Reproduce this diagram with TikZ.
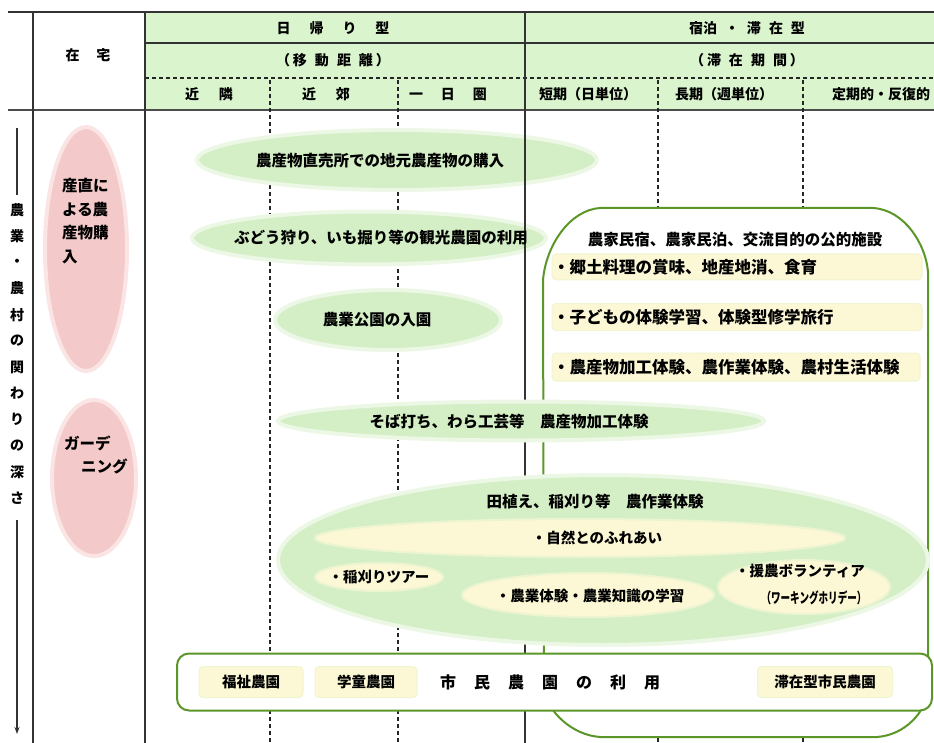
\documentclass[tikz,border=0pt]{standalone}
\usepackage{fontspec}
\usepackage{graphicx}
\setmainfont{Noto Sans CJK JP}
\usetikzlibrary{shapes.geometric,arrows.meta}
\definecolor{hdr}{RGB}{218,245,206}
\definecolor{lgreen}{RGB}{212,239,198}
\definecolor{pinkf}{RGB}{244,201,201}
\definecolor{yel}{RGB}{252,248,214}
\definecolor{boxg}{RGB}{90,150,40}
\begin{document}
\begin{tikzpicture}[x=1pt,y=-1pt,
  txt/.style={inner sep=0pt, font=\bfseries\fontsize{15.5}{18}\selectfont},
  stxt/.style={inner sep=0pt, font=\bfseries\fontsize{14.5}{17}\selectfont},
  hd/.style={inner sep=0pt, font=\bfseries\fontsize{14}{16}\selectfont},
  gell/.style={ellipse, fill=lgreen, draw=lgreen!45, line width=4pt, inner sep=0pt},
  yell/.style={ellipse, fill=yel, draw=yel!60!lgreen, line width=2pt, inner sep=0pt},
  pell/.style={ellipse, fill=pinkf, draw=pinkf!50, line width=4pt, inner sep=0pt},
  ybox/.style={rectangle, rounded corners=4pt, fill=yel, draw=yel!70!lgreen, line width=1pt, inner sep=0pt},
  dline/.style={line width=1.1pt, dash pattern=on 4pt off 3pt, black!85},
  sline/.style={line width=1.2pt, black!80},
]
\useasboundingbox (0,0) rectangle (934,743);
% header
\fill[hdr] (145,12) rectangle (934,110);
\draw[sline] (8,12) -- (934,12);
\draw[sline] (145,43) -- (934,43);
\draw[dline] (145,78) -- (934,78);
\draw[line width=1.8pt, black!70] (8,110) -- (934,110);
\draw[sline] (33,12) -- (33,743);
\draw[sline] (145,12) -- (145,743);
\draw[sline] (525,12) -- (525,110);
% dashed verticals
\foreach \xx in {270,398,658,803} \draw[dline] (\xx,80) -- (\xx,743);
% header texts
\node[hd] (zaitaku) at (88,55) {在\hspace{17pt}宅};
\node[hd] (higaeri) at (333,28) {日\hspace{19pt}帰\hspace{19pt}り\hspace{19pt}型};
\node[hd] (idou) at (333,60) {（\hspace{3pt}移\hspace{8pt}動\hspace{8pt}距\hspace{8pt}離\hspace{3pt}）};
\node[hd] (kinrin) at (209,94) {近\hspace{20pt}隣};
\node[hd] (kinkou) at (326,94) {近\hspace{20pt}郊};
\node[hd] (ichinichi) at (448,94) {一\hspace{18pt}日\hspace{18pt}圏};
\node[hd] (shukuhaku) at (747,28) {宿泊\hspace{8pt}・\hspace{8pt}滞\hspace{8pt}在\hspace{8pt}型};
\node[hd] (taizai) at (747,60) {（\hspace{3pt}滞\hspace{8pt}在\hspace{8pt}期\hspace{8pt}間\hspace{3pt}）};
\node[hd] (tanki) at (588,94) {短期（日単位）};
\node[hd] (chouki) at (724,94) {長期（週単位）};
\node[hd] (teiki) at (881,94) {定期的・反復的};
% vertical axis
\coordinate (axtop) at (17,128);
\coordinate (axmid) at (17,195);
\coordinate (axlow) at (17,520);
\coordinate (axbot) at (17,734);
\draw[line width=1.2pt, black!80] (axtop) -- (axmid);
\draw[line width=1.2pt, black!80, -{Stealth[length=7pt,width=5pt]}] (axlow) -- (axbot);
\foreach \c [count=\i from 0] in {農,業,・,農,村,の,関,わ,り,の,深,さ}
  \node[hd] (ax\i) at (17,{210+26.2*\i}) {\c};
% green ellipses 1-3
\node[gell, minimum width=400pt, minimum height=60pt] (e1) at (397,160) {};
\node[gell, minimum width=354pt, minimum height=53pt] (e2) at (369,238) {};
\node[gell, minimum width=226pt, minimum height=60pt] (e3) at (388,320) {};
\draw[sline] (525,110) -- (525,743);
% right box
\coordinate (rb1) at (600,208);
\coordinate (rb2) at (873,208);
\coordinate (rb3) at (928,272);
\coordinate (rb4) at (928,690);
\coordinate (rb5) at (877,737);
\coordinate (rb6) at (600,737);
\coordinate (rb7) at (544,690);
\coordinate (rb8) at (543,280);
\draw[line width=2pt, draw=boxg, fill=white] (rb1) -- (rb2) .. controls (905,210) and (926,245) .. (rb3) -- (rb4) .. controls (926,712) and (905,735) .. (rb5) -- (rb6) .. controls (572,735) and (548,712) .. (rb7) -- (rb8) .. controls (546,245) and (570,210) .. (rb1) -- cycle;
\node[font=\bfseries\fontsize{15.5}{18}\selectfont, inner sep=0pt] (rbtitle) at (735,240) {農家民宿、農家民泊、交流目的の公的施設};
\node[ybox, minimum width=370pt, minimum height=26pt] (row1) at (737,267) {};
\node[ybox, minimum width=370pt, minimum height=27pt] (row2) at (737,317) {};
\node[ybox, minimum width=368pt, minimum height=28pt] (row3) at (736,367) {};
\node[font=\bfseries\fontsize{16.5}{19}\selectfont, inner sep=0pt, anchor=west] (r1t) at (553,267) {・郷土料理の賞味、地産地消、食育};
\node[font=\bfseries\fontsize{16.5}{19}\selectfont, inner sep=0pt, anchor=west] (r2t) at (553,317) {・子どもの体験学習、体験型修学旅行};
\node[font=\bfseries\fontsize{16.5}{19}\selectfont, inner sep=0pt, anchor=west] (r3t) at (553,367) {・農産物加工体験、農作業体験、農村生活体験};
% green ellipses 4-5
\node[gell, minimum width=486pt, minimum height=39pt] (e4) at (521,421) {};
\node[gell, minimum width=650pt, minimum height=170pt] (e5) at (603,560) {};
\node[yell, minimum width=530pt, minimum height=38pt] (y1) at (580,538) {};
\node[yell, minimum width=128pt, minimum height=28pt] (y2) at (379,577) {};
\node[yell, minimum width=252pt, minimum height=44pt] (y3) at (588,595) {};
\node[yell, minimum width=172pt, minimum height=54pt] (y4) at (804,587) {};
% ellipse texts
\node[txt] (e1t) at (380,161) {農産物直売所での地元農産物の購入};
\node[txt] (e2t) at (381,238) {ぶどう狩り、いも掘り等の観光農園の利用};
\node[txt] (e3t) at (377,320) {農業公園の入園};
\node[txt] (e4t) at (509,422) {そば打ち、わら工芸等　農産物加工体験};
\node[txt] (e5t) at (595,502) {田植え、稲刈り等　農作業体験};
\node[stxt] (y1t) at (597,538) {・自然とのふれあい};
\node[stxt] (y2t) at (379,577) {・稲刈りツアー};
\node[stxt] (y3t) at (590,596) {・農業体験・農業知識の学習};
\node[stxt] (y4t) at (800,571) {・援農ボランティア};
\node[stxt] (y4s) at (814,598) {\scalebox{0.66}[1]{（ワーキングホリデー）}};
% bottom box
\node[draw=boxg, line width=2pt, fill=white, rounded corners=12pt, minimum width=755pt, minimum height=57pt, inner sep=0pt] (citybox) at (554.5,682) {};
\node[ybox, minimum width=104pt, minimum height=31pt] (fukushi) at (251,682) {};
\node[ybox, minimum width=102pt, minimum height=31pt] (gakudou) at (366,682) {};
\node[ybox, minimum width=135pt, minimum height=31pt] (taizaigata) at (825,682) {};
\node[stxt] (fukushit) at (251,682) {福祉農園};
\node[stxt] (gakudout) at (366,682) {学童農園};
\node[stxt] (taizaigatat) at (825,682) {滞在型市民農園};
\node[font=\bfseries\fontsize{16}{18}\selectfont, inner sep=0pt] (shimin) at (550,682) {市\hspace{18pt}民\hspace{18pt}農\hspace{18pt}園\hspace{18pt}の\hspace{18pt}利\hspace{18pt}用};
% pink ellipses
\node[pell, minimum width=82pt, minimum height=244pt] (p1) at (86,249) {};
\node[pell, minimum width=84pt, minimum height=156pt] (p2) at (94,478) {};
\node[font=\bfseries\fontsize{15.5}{23.5}\selectfont, inner sep=0pt, align=left, anchor=north west] (p1t) at (62,178) {産直に\\よる農\\産物購\\入};
\node[txt, anchor=west] (p2a) at (64,443) {ガーデ};
\node[txt, anchor=west] (p2b) at (81,466) {ニング};
\end{tikzpicture}
\end{document}
